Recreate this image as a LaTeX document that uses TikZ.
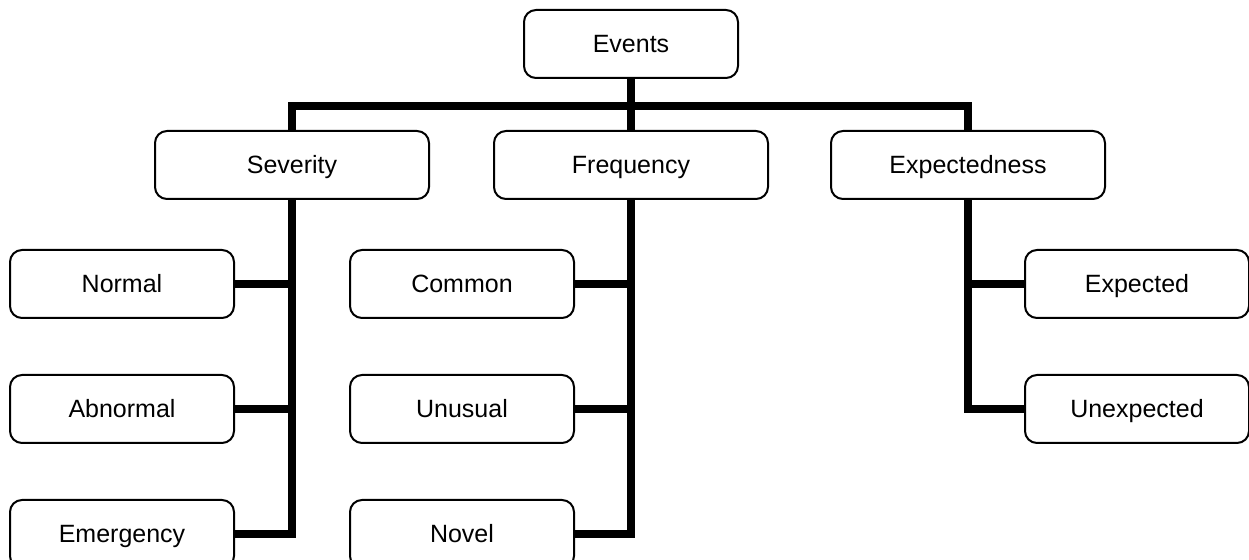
\documentclass[tikz,border=0pt]{standalone}
\usepackage{fontspec}
\setmainfont{Liberation Sans}
\usetikzlibrary{positioning}

\begin{document}
\begin{tikzpicture}[
  x=0.5pt,y=-0.5pt,
  node distance=27.5pt,
  box/.style={draw,line width=1pt,rounded corners=6pt,minimum height=34pt,
    text height=9pt,text depth=0pt,
    font=\fontsize{12.5}{14}\selectfont},
  rootbox/.style={box,minimum width=107pt},
  catbox/.style={box,minimum width=137pt},
  leafbox/.style={box,minimum width=112pt},
  link/.style={line width=4pt}
]
  \useasboundingbox (0,0) rectangle (1249,560);

  \node[rootbox] (events) at (631,44) {Events};

  \node[catbox] (severity) at (292,165) {Severity};
  \node[catbox] (frequency) at (631,165) {Frequency};
  \node[catbox] (expectedness) at (968,165) {Expectedness};

  \node[leafbox] (normal) at (122,284) {Normal};
  \node[leafbox,below=of normal] (abnormal) {Abnormal};
  \node[leafbox,below=of abnormal] (emergency) {Emergency};

  \node[leafbox] (common) at (462,284) {Common};
  \node[leafbox,below=of common] (unusual) {Unusual};
  \node[leafbox,below=of unusual] (novel) {Novel};

  \node[leafbox] (expected) at (1137,284) {Expected};
  \node[leafbox,below=of expected] (unexpected) {Unexpected};

  % bus under the root
  \coordinate (bus) at (631,106);
  \draw[link] (events) -- (frequency);
  \draw[link] (severity.north) |- (bus) -| (expectedness.north);

  % branches to the leaves
  \draw[link] (severity) |- (emergency);
  \draw[link] (normal) -- (normal -| severity);
  \draw[link] (abnormal) -- (abnormal -| severity);

  \draw[link] (frequency) |- (novel);
  \draw[link] (common) -- (common -| frequency);
  \draw[link] (unusual) -- (unusual -| frequency);

  \draw[link] (expectedness) |- (unexpected);
  \draw[link] (expected) -- (expected -| expectedness);
\end{tikzpicture}
\end{document}
